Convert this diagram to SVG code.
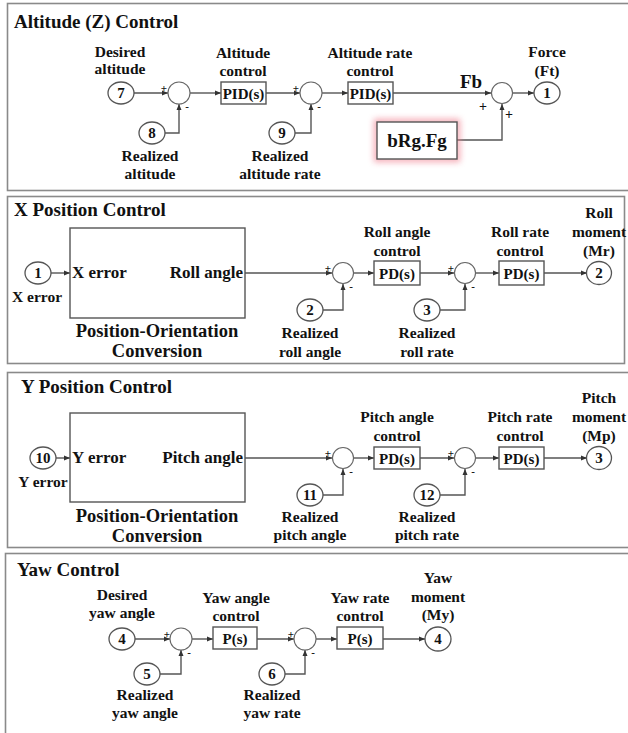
<svg xmlns="http://www.w3.org/2000/svg" width="628" height="733" viewBox="0 0 628 733">
<defs>
<marker id="ar" markerWidth="7" markerHeight="6" refX="6" refY="3" orient="auto" markerUnits="userSpaceOnUse"><path d="M0,0.5 L6,3 L0,5.5 z" fill="#333"/></marker>
<filter id="glow" x="-30%" y="-40%" width="160%" height="180%"><feGaussianBlur stdDeviation="3"/></filter>
<style>
text{font-family:'Liberation Serif','Times New Roman',serif;font-weight:bold;fill:#111;}
.t{font-size:19px;}
.l{font-size:15.5px;text-anchor:middle;}
.n{font-size:15px;text-anchor:middle;}
.b{font-size:15px;text-anchor:middle;}
.in{font-size:17px;}
.po{font-size:18.5px;text-anchor:middle;}
.s{font-size:11px;text-anchor:middle;}
.panel{fill:#fff;stroke:#8a8a8a;stroke-width:1.6;}
.nd{fill:#fff;stroke:#555;stroke-width:1.3;}
.sum{fill:#fff;stroke:#666;stroke-width:1.1;}
.box{fill:#fff;stroke:#555;stroke-width:1.4;}
.c{fill:none;stroke:#555;stroke-width:1.4;}
.c.a{marker-end:url(#ar);}
</style>
</defs>
<rect width="628" height="733" fill="#fff"/>
<g id="panels">
<rect class="panel" x="7.5" y="3.5" width="630" height="187"/>
<rect class="panel" x="7.5" y="196.5" width="617" height="167"/>
<rect class="panel" x="7.5" y="372.5" width="630" height="175"/>
<rect class="panel" x="5.5" y="553.5" width="632" height="190"/>
<text class="t" x="14" y="28">Altitude (Z) Control</text>
<text class="t" x="14" y="216">X Position Control</text>
<text class="t" x="21" y="393">Y Position Control</text>
<text class="t" x="17" y="576">Yaw Control</text>
</g>
<g id="connectors">
<path class="c a" d="M134,93 H168"/>
<path class="c a" d="M165,133 H179 V104"/>
<path class="c a" d="M190,93 H221"/>
<path class="c a" d="M266,93 H300"/>
<path class="c a" d="M295,133 H311 V104"/>
<path class="c a" d="M322,93 H348"/>
<path class="c a" d="M393,93 H491"/>
<path class="c a" d="M457,140 H502 V104"/>
<path class="c a" d="M513,93 H534"/>

<path class="c a" d="M51,273 H70"/>
<path class="c a" d="M245,273 H332"/>
<path class="c a" d="M323,310 H343 V284"/>
<path class="c a" d="M354,273 H374"/>
<path class="c a" d="M420,273 H454"/>
<path class="c a" d="M440,310 H465 V284"/>
<path class="c a" d="M476,273 H499"/>
<path class="c a" d="M544,273 H587"/>

<path class="c a" d="M56,458 H70"/>
<path class="c a" d="M245,458 H332"/>
<path class="c a" d="M323,495 H343 V469"/>
<path class="c a" d="M354,458 H374"/>
<path class="c a" d="M420,458 H454"/>
<path class="c a" d="M440,495 H465 V469"/>
<path class="c a" d="M476,458 H499"/>
<path class="c a" d="M544,458 H587"/>

<path class="c a" d="M135,639 H170"/>
<path class="c a" d="M160,674 H181 V650"/>
<path class="c a" d="M192,639 H213"/>
<path class="c a" d="M257,639 H294"/>
<path class="c a" d="M285,674 H305 V650"/>
<path class="c a" d="M316,639 H337"/>
<path class="c a" d="M383,639 H425"/>
</g>

<!-- Altitude panel -->
<g id="in7"><ellipse class="nd" cx="121" cy="93" rx="13" ry="11"/><text class="n" x="121" y="98">7</text><text class="l" x="120" y="57">Desired</text><text class="l" x="120" y="74">altitude</text></g>
<g id="sumA1"><circle class="sum" cx="179" cy="93" r="11"/><text class="s" x="164" y="92">+</text><text class="s" x="187" y="110">-</text></g>
<g id="in8"><ellipse class="nd" cx="152" cy="133" rx="13" ry="11"/><text class="n" x="152" y="138">8</text><text class="l" x="150" y="161">Realized</text><text class="l" x="150" y="179">altitude</text></g>
<g id="pidA"><rect class="box" x="221" y="82" width="45" height="22"/><text class="b" x="243.5" y="98.5">PID(s)</text><text class="l" x="243" y="58">Altitude</text><text class="l" x="243" y="76">control</text></g>
<g id="sumA2"><circle class="sum" cx="311" cy="93" r="11"/><text class="s" x="296" y="92">+</text><text class="s" x="319" y="110">-</text></g>
<g id="in9"><ellipse class="nd" cx="282" cy="133" rx="13" ry="11"/><text class="n" x="282" y="138">9</text><text class="l" x="280" y="161">Realized</text><text class="l" x="280" y="179">altitude rate</text></g>
<g id="pidAR"><rect class="box" x="348" y="82" width="45" height="22"/><text class="b" x="370.5" y="98.5">PID(s)</text><text class="l" x="370" y="58">Altitude rate</text><text class="l" x="370" y="76">control</text></g>
<text x="471" y="88" style="font-size:19px;text-anchor:middle">Fb</text>
<g id="sumA3"><circle class="sum" cx="502" cy="93" r="10.5"/><text class="s" x="483" y="111" style="font-size:14px">+</text><text class="s" x="509" y="119" style="font-size:14px">+</text></g>
<g id="out1"><ellipse class="nd" cx="547" cy="93" rx="13" ry="11"/><text class="n" x="547" y="98">1</text><text class="l" x="547" y="57">Force</text><text class="l" x="547" y="76">(Ft)</text></g>
<g id="bRg"><rect x="377" y="122" width="80" height="37" fill="none" stroke="#f08090" stroke-width="6" opacity="0.7" filter="url(#glow)"/><rect class="box" x="377" y="122" width="80" height="37"/><text x="417" y="147" style="font-size:19px;text-anchor:middle">bRg.Fg</text></g>

<!-- X panel -->
<g id="inX1"><ellipse class="nd" cx="38" cy="273" rx="13" ry="11"/><text class="n" x="38" y="278">1</text><text class="l" x="37" y="302">X error</text></g>
<g id="convX"><rect class="box" x="70" y="228" width="175" height="90"/><text class="in" x="72" y="278">X error</text><text class="in" x="243" y="278" text-anchor="end">Roll angle</text><text class="po" x="157" y="337">Position-Orientation</text><text class="po" x="157" y="357">Conversion</text></g>
<g id="sumX1"><circle class="sum" cx="343" cy="273" r="10.5"/><text class="s" x="328" y="272">+</text><text class="s" x="351" y="290">-</text></g>
<g id="inX2"><ellipse class="nd" cx="310" cy="310" rx="13" ry="11"/><text class="n" x="310" y="315">2</text><text class="l" x="310" y="338">Realized</text><text class="l" x="310" y="357">roll angle</text></g>
<g id="pdX1"><rect class="box" x="374" y="261" width="46" height="24"/><text class="b" x="397" y="278.5">PD(s)</text><text class="l" x="397" y="237">Roll angle</text><text class="l" x="397" y="256">control</text></g>
<g id="sumX2"><circle class="sum" cx="465" cy="273" r="10.5"/><text class="s" x="451" y="272">+</text><text class="s" x="473" y="290">-</text></g>
<g id="inX3"><ellipse class="nd" cx="427" cy="310" rx="13" ry="11"/><text class="n" x="427" y="315">3</text><text class="l" x="427" y="338">Realized</text><text class="l" x="427" y="357">roll rate</text></g>
<g id="pdX2"><rect class="box" x="499" y="261" width="45" height="24"/><text class="b" x="521.5" y="278.5">PD(s)</text><text class="l" x="520" y="237">Roll rate</text><text class="l" x="520" y="256">control</text></g>
<g id="outX2"><ellipse class="nd" cx="599" cy="273" rx="12.5" ry="11.5"/><text class="n" x="599" y="278">2</text><text class="l" x="599" y="218">Roll</text><text class="l" x="599" y="237">moment</text><text class="l" x="599" y="256">(Mr)</text></g>

<!-- Y panel -->
<g id="inY10"><ellipse class="nd" cx="43" cy="458" rx="13" ry="11"/><text class="n" x="43" y="463">10</text><text class="l" x="43" y="487">Y error</text></g>
<g id="convY"><rect class="box" x="70" y="413" width="175" height="89"/><text class="in" x="72" y="463">Y error</text><text class="in" x="243" y="463" text-anchor="end">Pitch angle</text><text class="po" x="157" y="522">Position-Orientation</text><text class="po" x="157" y="542">Conversion</text></g>
<g id="sumY1"><circle class="sum" cx="343" cy="458" r="10.5"/><text class="s" x="328" y="457">+</text><text class="s" x="351" y="475">-</text></g>
<g id="inY11"><ellipse class="nd" cx="310" cy="495" rx="13" ry="11"/><text class="n" x="310" y="500">11</text><text class="l" x="310" y="522">Realized</text><text class="l" x="310" y="540">pitch angle</text></g>
<g id="pdY1"><rect class="box" x="374" y="447" width="46" height="22"/><text class="b" x="397" y="463.5">PD(s)</text><text class="l" x="397" y="422">Pitch angle</text><text class="l" x="397" y="441">control</text></g>
<g id="sumY2"><circle class="sum" cx="465" cy="458" r="10.5"/><text class="s" x="451" y="457">+</text><text class="s" x="473" y="475">-</text></g>
<g id="inY12"><ellipse class="nd" cx="427" cy="495" rx="13" ry="11"/><text class="n" x="427" y="500">12</text><text class="l" x="427" y="522">Realized</text><text class="l" x="427" y="540">pitch rate</text></g>
<g id="pdY2"><rect class="box" x="499" y="447" width="45" height="22"/><text class="b" x="521.5" y="463.5">PD(s)</text><text class="l" x="520" y="422">Pitch rate</text><text class="l" x="520" y="441">control</text></g>
<g id="outY3"><ellipse class="nd" cx="599" cy="458" rx="12.5" ry="11.5"/><text class="n" x="599" y="463">3</text><text class="l" x="599" y="403">Pitch</text><text class="l" x="599" y="422">moment</text><text class="l" x="599" y="441">(Mp)</text></g>

<!-- Yaw panel -->
<g id="inW4"><ellipse class="nd" cx="122" cy="639" rx="13" ry="11"/><text class="n" x="122" y="644">4</text><text class="l" x="122" y="600">Desired</text><text class="l" x="122" y="618">yaw angle</text></g>
<g id="sumW1"><circle class="sum" cx="181" cy="639" r="11"/><text class="s" x="167" y="638">+</text><text class="s" x="189" y="656">-</text></g>
<g id="inW5"><ellipse class="nd" cx="147" cy="674" rx="13" ry="11"/><text class="n" x="147" y="679">5</text><text class="l" x="145" y="700">Realized</text><text class="l" x="145" y="718">yaw angle</text></g>
<g id="pW1"><rect class="box" x="213" y="627" width="44" height="22"/><text class="b" x="235" y="643.5">P(s)</text><text class="l" x="236" y="603">Yaw angle</text><text class="l" x="236" y="621">control</text></g>
<g id="sumW2"><circle class="sum" cx="305" cy="639" r="11"/><text class="s" x="291" y="638">+</text><text class="s" x="313" y="656">-</text></g>
<g id="inW6"><ellipse class="nd" cx="272" cy="674" rx="13" ry="11"/><text class="n" x="272" y="679">6</text><text class="l" x="272" y="700">Realized</text><text class="l" x="272" y="718">yaw rate</text></g>
<g id="pW2"><rect class="box" x="337" y="627" width="46" height="22"/><text class="b" x="360" y="643.5">P(s)</text><text class="l" x="360" y="603">Yaw rate</text><text class="l" x="360" y="621">control</text></g>
<g id="outW4"><ellipse class="nd" cx="438" cy="639" rx="13" ry="12"/><text class="n" x="438" y="644">4</text><text class="l" x="438" y="583">Yaw</text><text class="l" x="438" y="602">moment</text><text class="l" x="438" y="620">(My)</text></g>
</svg>
